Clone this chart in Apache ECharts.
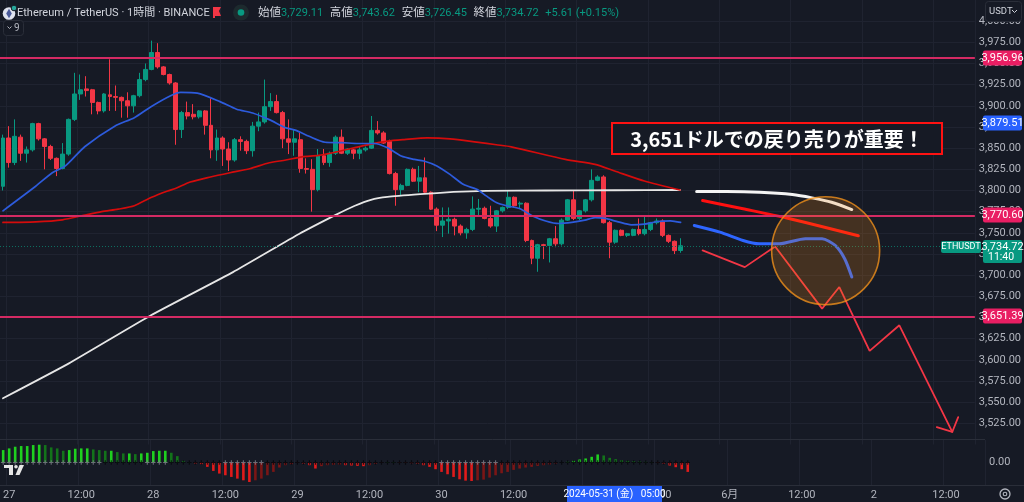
<!DOCTYPE html>
<html><head><meta charset="utf-8">
<script src="https://cdn.jsdelivr.net/npm/echarts@6/dist/echarts.min.js"></script>
<style>html,body{margin:0;padding:0;background:#161a25;}#c{width:1024px;height:502px;}</style>
</head><body><div id="c"></div>
<script>
// ---------- DATA ----------
const candleOpen  = [3805,3862,3833,3863,3844,3848,3879,3861,3852,3838,3826,3843,3884,3914,3920,3919,3904,3894,3913,3911,3910,3906,3900,3912,3931,3943,3963,3946,3937,3927,3872,3892,3890,3887,3894,3877,3848,3862,3849,3836,3860,3858,3847,3876,3881,3899,3905,3892,3861,3857,3860,3826,3825,3801,3841,3833,3844,3863,3844,3848,3844,3848,3850,3871,3868,3858,3820,3801,3806,3825,3811,3815,3798,3778,3759,3764,3766,3758,3750,3754,3778,3779,3767,3758,3776,3780,3792,3784,3785,3741,3720,3736,3735,3743,3737,3765,3789,3767,3776,3789,3812,3816,3762,3739,3753,3747,3747,3754,3749,3754,3762,3764,3747,3740,3729.11];
const candleClose = [3862,3833,3864,3844,3848,3879,3861,3852,3838,3826,3843,3884,3914,3919,3918,3904,3894,3914,3911,3910,3906,3900,3912,3931,3943,3963,3946,3937,3927,3872,3892,3888,3887,3894,3877,3848,3862,3849,3836,3860,3858,3847,3876,3881,3899,3905,3892,3861,3857,3861,3826,3825,3801,3841,3833,3844,3863,3844,3849,3844,3848,3850,3871,3868,3856,3820,3801,3806,3825,3811,3815,3798,3778,3759,3764,3766,3758,3750,3754,3778,3779,3767,3758,3776,3780,3792,3782,3785,3741,3720,3736,3735,3743,3737,3765,3789,3767,3776,3789,3812,3816,3762,3739,3753,3747,3749,3754,3749,3754,3762,3764,3747,3740,3729,3734.72];
const candleLow   = [3800,3827,3830,3835,3833,3846,3859,3825,3836,3817,3825,3841,3882,3907,3911,3890,3890,3892,3894,3894,3886,3886,3892,3910,3929,3942,3944,3936,3925,3854,3862,3884,3884,3885,3866,3838,3835,3829,3823,3834,3847,3843,3840,3870,3879,3894,3891,3850,3843,3841,3821,3820,3775,3799,3830,3828,3842,3843,3842,3837,3837,3846,3849,3866,3855,3819,3782,3794,3805,3810,3798,3796,3777,3752,3745,3749,3747,3747,3743,3752,3770,3766,3756,3751,3774,3778,3780,3778,3739,3713,3704,3719,3715,3733,3735,3764,3765,3765,3774,3787,3811,3761,3720,3737,3746,3745,3746,3747,3747,3752,3760,3745,3738,3725,3726.45];
const candleHigh  = [3866,3876,3884,3866,3852,3880,3880,3862,3854,3839,3856,3885,3939,3937,3935,3920,3905,3915,3955,3924,3911,3916,3913,3939,3950,3977,3974,3947,3938,3928,3894,3905,3902,3895,3895,3909,3872,3864,3857,3862,3864,3860,3881,3892,3931,3915,3913,3894,3884,3872,3868,3838,3837,3849,3849,3846,3865,3872,3850,3849,3852,3852,3888,3882,3870,3860,3822,3808,3826,3827,3829,3839,3799,3780,3780,3780,3768,3760,3756,3793,3790,3781,3782,3777,3781,3800,3793,3787,3786,3742,3737,3737,3744,3758,3767,3790,3800,3777,3790,3825,3818,3818,3764,3754,3754,3750,3755,3767,3770,3763,3767,3766,3748,3741,3743.62];

// moving averages: [bar index, price]
const maBlue = [[0,3776],[5.5,3805],[8.3,3821],[10.5,3829],[13.8,3852],[18.8,3876],[22.1,3886],[24.9,3899],[28.2,3912],[29.9,3916],[32.7,3915],[36.5,3905],[39.3,3896],[42,3891.6],[44.8,3883.7],[47.6,3874],[49.3,3871],[51.5,3864],[54.2,3857],[57,3856.5],[59.8,3855.5],[62.5,3855.5],[64.7,3850.4],[67,3840.7],[69.2,3836.7],[70.8,3834.8],[73,3829],[75.2,3819],[77.5,3807],[79.7,3801.5],[81.3,3793.6],[83,3785.8],[84.7,3782],[86.9,3778.7],[89.1,3770],[91.3,3764],[93.5,3761],[95.7,3762.3],[97.9,3765],[99.6,3768],[101.3,3767],[103.5,3763],[105.7,3759.5],[107.9,3760.3],[110.1,3763.4],[112.3,3764.2],[114,3762.3]];
const maRed = [[0,3762.3],[5.5,3763],[10,3765.4],[13.8,3771],[16.6,3775],[19.4,3778],[22.1,3782],[24.9,3791.7],[27.7,3799.5],[29,3802.3],[31.5,3810],[34.9,3816],[38.2,3821],[41.5,3825.7],[44.8,3832.8],[47.6,3836],[50.3,3839.8],[53.1,3841.4],[55.9,3845.3],[61.1,3853.6],[64.7,3858.3],[67.5,3860.2],[71.4,3862.2],[75.2,3861],[79.7,3857.1],[83,3854],[85.5,3851.6],[94.6,3836.7],[99.6,3830.8],[102.9,3823],[107.9,3811.2],[113.9,3800.6]];
const maWhite = [[0,3554.6],[11.1,3595.8],[24.9,3652.6],[38.7,3703.6],[49.8,3748.6],[55.9,3770.9],[59.2,3782],[61.9,3789],[64.7,3792.4],[70.2,3795.6],[75.8,3798.3],[81.3,3799.5],[91.3,3800],[102.9,3800.3],[113.9,3800.6]];

// hand-drawn projections
const drawWhite = [[116.7,3798.7],[121.7,3798.7],[127.3,3797.9],[132.8,3795.2],[136.1,3791.3],[139.4,3786.1],[142.8,3777.5]];
const drawRed = [[117.7,3788.1],[124.5,3778.4],[131.7,3767.8],[143.9,3746.5]];
const drawBlue = [[116.3,3758.7],[120.6,3750.8],[124.5,3741],[127.2,3737.1],[130.6,3737.1],[135,3743],[137.8,3743],[140,3735.1],[141.6,3719.4],[142.8,3697.8]];
const zigzag = [[117.7,3729.2],[124.8,3709.5],[129.9,3733.9],[137.8,3660.5],[140.7,3686],[145.8,3610.6],[150.8,3640.8],[159.7,3514.8]];
const arrowHead = [[157.1,3520.6],[159.7,3514.8],[160.7,3532.4]];
const circleCenter = [[138.4,3728.9]];

// horizontal levels
const levels = [3956.96, 3770.60, 3651.39];
const blueLevel = 3879.51;
const lastPrice = 3734.72;

// squeeze momentum histogram and cross states (1 = grey, 0 = black)
const hist = [37,42,47,49,49,52,53,52,45,42,35,37,41,42,42,39,37,35,35,31,27,27,25,27,29,34,35,35,29,19,5,1,-3,-5,-13,-25,-33,-38,-43,-48,-53,-58,-53,-48,-38,-28,-15,-8,-5,-1,-3,-8,-18,-11,-8,-7,-6,-8,-9,-10,-11,-8,-4,-1,1,1,-1,-1,-2,-3,-8,-13,-20,-28,-35,-43,-50,-54,-55,-53,-51,-45,-38,-32,-28,-22,-18,-15,-13,-10,-8,-6,-3,0,2,5,9,12,17,24,21,14,10,7,5,4,3,2,1,-1,-3,-9,-14,-20,-28];
const squeeze = [1,1,1,1,1,1,1,1,1,1,1,1,1,1,1,1,1,0,0,0,0,0,0,0,1,1,1,1,0,0,0,0,0,0,0,0,0,1,1,1,1,1,1,1,0,0,0,0,0,0,0,0,0,0,0,0,0,0,0,0,0,0,0,0,0,0,0,0,0,0,0,0,0,1,1,1,1,1,1,1,1,1,1,0,0,0,0,0,0,0,0,0,0,0,0,0,0,0,0,0,0,0,0,0,0,0,0,0,0,0,0,0,0,0,0];

const dayLabels = {'5/27':'27','5/28':'28','5/29':'29','5/30':'30','5/31':'31','6/1':'6月','6/2':'2'};
const priceTicks = 25;

// ---------- BUILD ----------
const N = 164;
const startMs = Date.UTC(2024,4,26,23);
const categories = [];
for (let i=0;i<N;i++){const d=new Date(startMs+i*3600000);categories.push((d.getUTCMonth()+1)+'/'+d.getUTCDate()+' '+String(d.getUTCHours()).padStart(2,'0')+':00');}
function tickLabel(cat){const p=cat.split(' ');if(p[1]==='12:00')return '12:00';if(p[1]==='00:00')return dayLabels[p[0]]||'';return null;}
const tickInterval=(i,v)=>tickLabel(categories[i])!==null;

const BG='#161a25', UP='#089981', DOWN='#f23645', GRIDC='#1f2330', TXT='#b2b5be';
const FONT='Roboto, "Noto Sans CJK JP", sans-serif';
const candles = candleOpen.map((o,i)=>[o,candleClose[i],candleLow[i],candleHigh[i]]);
const histData = hist.map((v,i)=>{const p=i>0?hist[i-1]:v;let c;if(v>=0)c=v>=p?'#1fd01f':'#13731a';else c=v<=p?'#e01b1b':'#7a1616';return {value:v,itemStyle:{color:c}};});
const crossData = squeeze.map((s,i)=>({value:[i,0],itemStyle:{color:s?'#7d808a':'#05060a'}}));
const fmt = v=>v.toLocaleString('en-US',{minimumFractionDigits:2,maximumFractionDigits:2});

const chart = echarts.init(document.getElementById('c'));
const lineS = (data,color,width,extra)=>Object.assign({type:'line',xAxisIndex:1,yAxisIndex:0,data,showSymbol:false,symbol:'none',smooth:0.25,lineStyle:{color,width,cap:'round'},silent:true,z:3},extra||{});

const option = {
  backgroundColor: BG,
  animation:false,
  textStyle:{fontFamily:FONT},
  grid:[{left:-3,right:39,top:-1,height:445.5},{left:-3,right:39,top:440,height:45}],
  xAxis:[
    {type:'category',gridIndex:0,data:categories,boundaryGap:true,axisLine:{show:false},axisTick:{show:false},axisLabel:{show:false},splitLine:{show:true,interval:tickInterval,lineStyle:{color:GRIDC}}},
    {type:'value',gridIndex:0,min:-0.5,max:N-0.5,show:false},
    {type:'category',gridIndex:1,data:categories,boundaryGap:true,axisLine:{show:false},axisTick:{show:false},
      axisLabel:{show:true,interval:tickInterval,formatter:v=>tickLabel(v)||'',color:TXT,fontSize:11,margin:5,fontFamily:FONT},
      splitLine:{show:true,interval:tickInterval,lineStyle:{color:GRIDC}}}
  ],
  yAxis:[
    {type:'value',gridIndex:0,position:'right',min:3500,max:4025,interval:priceTicks,axisLine:{show:false},axisTick:{show:false},
      axisLabel:{margin:4,color:TXT,fontSize:11,fontFamily:FONT,formatter:fmt,showMinLabel:false,showMaxLabel:false},
      splitLine:{show:true,showMinLine:false,showMaxLine:false,lineStyle:{color:GRIDC}}},
    {type:'value',gridIndex:1,position:'right',min:-67,max:67,interval:67,axisLine:{show:false},axisTick:{show:false},
      axisLabel:{margin:4,color:TXT,fontSize:11,fontFamily:FONT,formatter:v=>v===0?'0.00':''},splitLine:{show:false}}
  ],
  series:[
    {type:'candlestick',xAxisIndex:0,yAxisIndex:0,data:candles,barWidth:4.4,z:2,
      itemStyle:{color:UP,color0:DOWN,borderColor:UP,borderColor0:DOWN,borderWidth:1},
      markLine:{silent:true,symbol:['none','none'],label:{show:false},animation:false,
        data:levels.map(l=>({yAxis:l,lineStyle:{color:'#d42a63',width:2,type:'solid'}})).concat([{yAxis:lastPrice,lineStyle:{color:'#0d6e60',width:1,type:[1,2]}}])}},
    lineS(maWhite,'#e6e6e6',1.8,{smooth:0.15}),
    lineS(maRed,'#d40c0c',1.7),
    lineS(maBlue,'#2d5bdc',1.7),
    lineS(drawWhite,'#f4f4f4',3),
    lineS(drawRed,'#ff1010',3),
    lineS(drawBlue,'#2e66ff',3),
    lineS(zigzag,'#f23645',1.8,{smooth:false}),
    lineS(arrowHead,'#f23645',1.8,{smooth:false}),
    {type:'scatter',xAxisIndex:1,yAxisIndex:0,data:circleCenter,symbol:'circle',symbolSize:108,silent:true,z:5,
      itemStyle:{color:'rgba(245,140,20,0.26)',borderColor:'#f0901a',borderWidth:1.6}},
    {type:'bar',xAxisIndex:2,yAxisIndex:1,data:histData,barWidth:2.6,silent:true},
    {type:'scatter',xAxisIndex:2,yAxisIndex:1,data:crossData,symbol:'path://M3,0H5V3H8V5H5V8H3V5H0V3H3Z',symbolSize:4.5,silent:true,z:4}
  ]
};
chart.setOption(option);

// ---------- OVERLAY GRAPHICS ----------
const yOf = p=>chart.convertToPixel({yAxisIndex:0},p);
const g = [];
const Z=100;
g.push({type:'line',z:Z,shape:{x1:0,y1:439.5,x2:985,y2:439.5},style:{stroke:'#2a2e39',lineWidth:1}});
g.push({type:'line',z:Z,shape:{x1:0,y1:485.5,x2:1024,y2:485.5},style:{stroke:'#2a2e39',lineWidth:1}});
function tag(price,bg,text){const y=Math.round(yOf(price));g.push({type:'rect',z:Z,shape:{x:983,y:y-7.5,width:39,height:15,r:2},style:{fill:bg}});g.push({type:'text',z:Z+1,x:1002.5,y:y,style:{text:text,fill:'#ffffff',font:'11px '+FONT,align:'center',verticalAlign:'middle'}});}
levels.forEach(l=>tag(l,'#e91e63',fmt(l)));
tag(blueLevel,'#2962ff',fmt(blueLevel));
(function(){const y=Math.round(yOf(lastPrice));
  g.push({type:'rect',z:Z,shape:{x:941,y:y-5,width:40,height:12,r:2},style:{fill:UP}});
  g.push({type:'text',z:Z+1,x:961,y:y+1,style:{text:'ETHUSDT',fill:'#fff',font:'9px '+FONT,align:'center',verticalAlign:'middle'}});
  g.push({type:'rect',z:Z,shape:{x:983,y:y-6,width:39,height:23,r:2},style:{fill:UP}});
  g.push({type:'text',z:Z+1,x:1002.5,y:y+1,style:{text:fmt(lastPrice),fill:'#fff',font:'11px '+FONT,align:'center',verticalAlign:'middle'}});
  g.push({type:'text',z:Z+1,x:988,y:y+11,style:{text:'11:40',fill:'#fff',font:'10.5px '+FONT,align:'left',verticalAlign:'middle'}});
})();
g.push({type:'rect',z:Z,shape:{x:985.5,y:1.5,width:36,height:20,r:3},style:{fill:BG,stroke:'#2a2e39',lineWidth:1}});
g.push({type:'text',z:Z+1,x:989,y:11.5,style:{text:'USDT',fill:'#d1d4dc',font:'9.5px '+FONT,verticalAlign:'middle'}});
g.push({type:'polyline',z:Z+1,shape:{points:[[1012,10],[1014.5,12.5],[1017,10]]},style:{stroke:'#d1d4dc',lineWidth:1,fill:null}});
g.push({type:'rect',z:Z,shape:{x:567,y:486,width:95,height:16},style:{fill:'#2962ff'}});
g.push({type:'text',z:Z+1,x:614.5,y:494,style:{text:'2024-05-31 (金)   05:00',fill:'#fff',font:'10px '+FONT,align:'center',verticalAlign:'middle'}});
g.push({type:'circle',z:Z,shape:{cx:1005,cy:494,r:5},style:{fill:null,stroke:'#b2b5be',lineWidth:1.3}});
g.push({type:'circle',z:Z,shape:{cx:1005,cy:494,r:1.8},style:{fill:null,stroke:'#b2b5be',lineWidth:1.1}});
g.push({type:'rect',z:Z,shape:{x:4,y:465,width:9,height:3},style:{fill:'#e6e6e6'}});
g.push({type:'rect',z:Z,shape:{x:9,y:465,width:4,height:10},style:{fill:'#e6e6e6'}});
g.push({type:'circle',z:Z,shape:{cx:16,cy:466.8,r:1.8},style:{fill:'#e6e6e6'}});
g.push({type:'polygon',z:Z,shape:{points:[[19.5,465],[24,465],[19.5,475],[15.5,475]]},style:{fill:'#e6e6e6'}});
// header
g.push({type:'circle',z:Z,shape:{cx:9,cy:13.5,r:6.3},style:{fill:'#dfe3ee'}});
g.push({type:'polygon',z:Z+1,shape:{points:[[9,8.8],[11.8,13.5],[9,18.2],[6.2,13.5]]},style:{fill:'#4a5a9a'}});
g.push({type:'circle',z:Z+1,shape:{cx:14,cy:8,r:2.8},style:{fill:'#26a69a',stroke:BG,lineWidth:1}});
g.push({type:'text',z:Z,x:17,y:13,style:{text:'Ethereum / TetherUS · 1時間 · BINANCE',fill:'#d1d4dc',font:'11px '+FONT,verticalAlign:'middle'}});
g.push({type:'polygon',z:Z,shape:{points:[[213,7],[221,7],[219,11],[221,16],[215,16],[215,18],[213,18]]},style:{fill:'#f23645'}});
g.push({type:'circle',z:Z,shape:{cx:241,cy:12.5,r:8},style:{fill:'#1d2a2e'}});
g.push({type:'circle',z:Z+1,shape:{cx:241,cy:12.5,r:3.3},style:{fill:UP}});
g.push({type:'text',z:Z,x:258,y:13,style:{
  text:'{l|始値}{v|3,729.11}  {l|高値}{v|3,743.62}  {l|安値}{v|3,726.45}  {l|終値}{v|3,734.72}  {v|+5.61 (+0.15%)}',
  verticalAlign:'middle',rich:{l:{fill:'#d1d4dc',font:'11.5px '+FONT},v:{fill:UP,font:'11px '+FONT}}}});
g.push({type:'rect',z:Z,shape:{x:3.5,y:20.5,width:20,height:15,r:3},style:{fill:BG,stroke:'#2a2e39',lineWidth:1}});
g.push({type:'polyline',z:Z+1,shape:{points:[[7.5,26.5],[9.5,28.5],[11.5,26.5]]},style:{stroke:'#b2b5be',lineWidth:1,fill:null}});
g.push({type:'text',z:Z+1,x:14,y:28.5,style:{text:'9',fill:'#b2b5be',font:'10px '+FONT,verticalAlign:'middle'}});
// annotation text box
g.push({type:'rect',z:Z,shape:{x:612,y:123,width:330,height:31},style:{fill:BG,stroke:'#ff1212',lineWidth:2}});
g.push({type:'text',z:Z+1,x:777,y:139,style:{text:'3,651ドルでの戻り売りが重要！',fill:'#ffffff',font:'bold 20px "Noto Sans CJK JP", sans-serif',align:'center',verticalAlign:'middle'}});

chart.setOption({graphic:g});
</script></body></html>
